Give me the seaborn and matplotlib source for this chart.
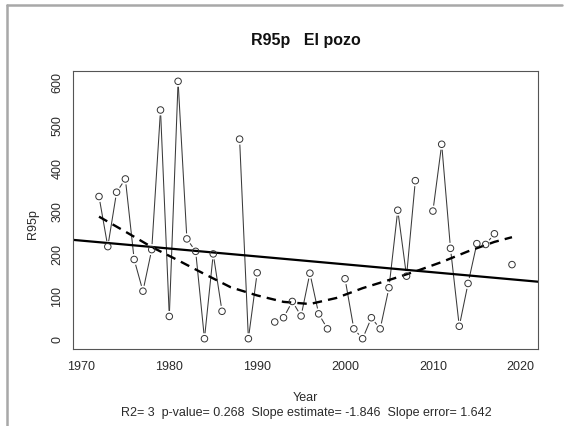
import numpy as np
import pandas as pd
import matplotlib
matplotlib.use("Agg")
import matplotlib.pyplot as plt
from matplotlib.lines import Line2D
import seaborn as sns

# ---- data ----
years = list(range(1971, 2021))
r95p = [np.nan, 332, 215, 342, 373, 185, 111, 208, 534, 52,
        601, 233, 204, 0, 198, 64, np.nan, 466, 0, 154,
        np.nan, 39, 49, 87, 53, 153, 58, 23, np.nan, 140,
        23, 0, 49, 23, 119, 300, 146, 369, np.nan, 298,
        454, 211, 29, 129, 222, 220, 245, np.nan, 173, np.nan]

smooth_years = [1972, 1975, 1978, 1981, 1984, 1987, 1990, 1993, 1996,
                1999, 2002, 2005, 2008, 2011, 2014, 2017, 2019]
smooth_vals = [285, 250, 214, 183, 151, 120, 101, 86, 81,
               95, 118, 137, 157, 179, 204, 226, 237]

reg_slope = -1.846
reg_at_1970 = 229

x_ticks = [1970, 1980, 1990, 2000, 2010, 2020]
y_ticks = [0, 100, 200, 300, 400, 500, 600]

title = "R95p   El pozo"
xlabel = "Year"
ylabel = "R95p"
stats_text = "R2= 3  p-value= 0.268  Slope estimate= -1.846  Slope error= 1.642"

df = pd.DataFrame({"Year": years, "R95p": r95p})

# ---- style ----
sns.set_style("white")
plt.rcParams["font.family"] = ["Liberation Sans", "DejaVu Sans"]

W, H = 571, 427
fig = plt.figure(figsize=(W / 100, H / 100), dpi=100)
L, R, T, B = 73, 538, 72, 350
ax = fig.add_axes([L / W, 1 - B / H, (R - L) / W, (B - T) / H])

ax.set_xlim(1969.04, 2021.96)
ax.set_ylim(-24.04, 625.04)

# data line with R type="b" gaps around points
gap = 5.5
vals = df["R95p"].to_numpy(dtype=float)
yrs = df["Year"].to_numpy(dtype=float)
for i in range(len(yrs) - 1):
    if np.isnan(vals[i]) or np.isnan(vals[i + 1]):
        continue
    p0 = ax.transData.transform((yrs[i], vals[i]))
    p1 = ax.transData.transform((yrs[i + 1], vals[i + 1]))
    d = p1 - p0
    n = np.hypot(*d)
    if n <= 2 * gap:
        continue
    u = d / n
    q0 = ax.transData.inverted().transform(p0 + u * gap)
    q1 = ax.transData.inverted().transform(p1 - u * gap)
    ax.plot([q0[0], q1[0]], [q0[1], q1[1]], color="#3a3a3a", lw=0.75,
            solid_capstyle="butt")

sns.scatterplot(data=df.dropna(), x="Year", y="R95p", ax=ax, marker="o",
                s=22, facecolors="none", edgecolor="#333333", linewidth=0.7,
                zorder=3)

# regression line
ax.axline((1970, reg_at_1970), slope=reg_slope, color="black", lw=1.6)

# smooth (dashed)
sns.lineplot(x=smooth_years, y=smooth_vals, ax=ax, color="black", lw=1.7,
             linestyle=(0, (4, 2.6)), sort=False)

# axes styling (R base look)
for s in ax.spines.values():
    s.set_color("#555555")
    s.set_linewidth(0.8)
ax.set_xticks(x_ticks)
ax.set_yticks(y_ticks)
ax.set_yticklabels([str(v) for v in y_ticks], rotation=90, va="center")
ax.tick_params(axis="both", direction="out", length=5, width=0.8,
               color="#666666", labelsize=9, labelcolor="#2a2a2a")
ax.tick_params(axis="x", pad=3)
ax.tick_params(axis="y", pad=2)
ax.set_xlabel(xlabel, fontsize=9, color="#2a2a2a")
ax.set_ylabel(ylabel, fontsize=9, color="#2a2a2a")
ax.xaxis.set_label_coords(0.5, (B - 398) / (B - T))
ax.xaxis.label.set_va("center")
ax.yaxis.set_label_coords((33 - L) / (R - L), (B - 224) / (B - T))
ax.yaxis.label.set_va("center")

fig.text(305.5 / W, 1 - 41 / H, title, ha="center", va="center",
         fontsize=11.5, fontweight="bold", color="#111111")
fig.text(306 / W, 1 - 413 / H, stats_text, ha="center", va="center",
         fontsize=9, color="#2a2a2a")

# grey frame of the original screenshot
fig.add_artist(Line2D([7 / W, 562 / W], [1 - 6 / H, 1 - 6 / H],
                      transform=fig.transFigure, color="#a8a8a8", lw=1.8))
fig.add_artist(Line2D([7 / W, 7 / W], [1 - 6 / H, 0],
                      transform=fig.transFigure, color="#a8a8a8", lw=1.8))

fig.savefig("out.png", dpi=100)
